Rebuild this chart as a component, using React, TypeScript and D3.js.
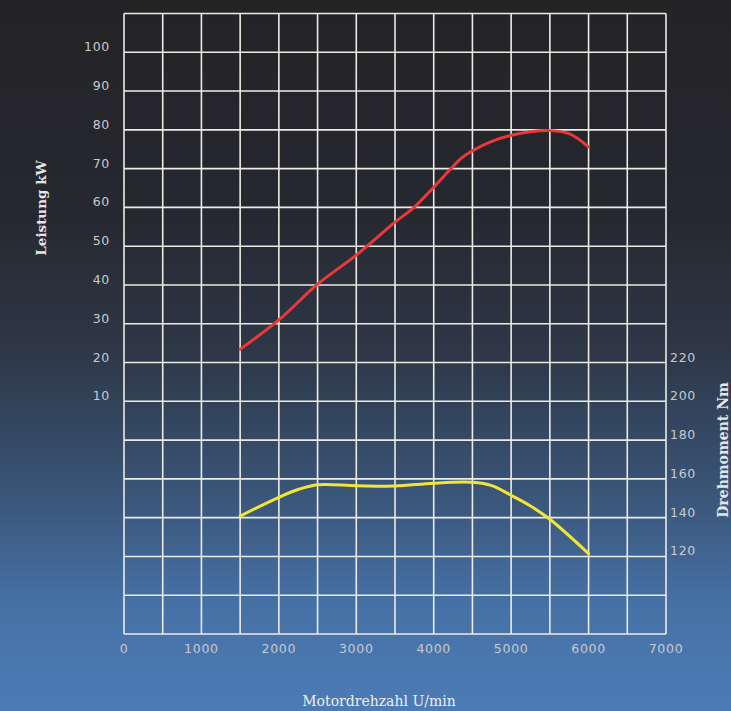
import React from "react";
import * as d3 from "d3";

const powerRpm = [1500, 2000, 2500, 3000, 3500, 3750, 4000, 4200, 4350, 4500, 4750, 5000, 5250, 5500, 5750, 6000];
const powerKw = [23.4, 31, 40.2, 47.7, 56.2, 60.1, 65.2, 69.5, 72.6, 74.6, 77, 78.6, 79.5, 79.8, 79, 75.6];

const torqueRpm = [1500, 2000, 2250, 2500, 3000, 3500, 4000, 4500, 4750, 5000, 5250, 5500, 6000];
const torqueNm = [140.8, 150.5, 154.5, 157, 156.5, 156.3, 157.8, 158.2, 156.5, 151.5, 146, 139.2, 121.5];

const xTicks = [0, 1000, 2000, 3000, 4000, 5000, 6000, 7000];
const kwTicks = [10, 20, 30, 40, 50, 60, 70, 80, 90, 100];
const nmTicks = [120, 140, 160, 180, 200, 220];

const W = 731;
const H = 711;
const left = 124;
const right = 666;
const top = 13.5;
const bottom = 634;

export default function App() {
  const x = d3.scaleLinear().domain([0, 7000]).range([left, right]);
  const yKw = d3.scaleLinear().domain([-50, 110]).range([bottom, top]);
  const yNm = d3.scaleLinear().domain([80, 400]).range([bottom, top]);

  const vGrid = d3.range(0, 7001, 500);
  const hGrid = d3.range(-50, 111, 10);

  const powerLine = d3
    .line<number>()
    .x((_, i) => x(powerRpm[i]))
    .y((d) => yKw(d))
    .curve(d3.curveCatmullRom.alpha(0.5))(powerKw);
  const torqueLine = d3
    .line<number>()
    .x((_, i) => x(torqueRpm[i]))
    .y((d) => yNm(d))
    .curve(d3.curveCatmullRom.alpha(0.5))(torqueNm);

  const tickStyle: React.CSSProperties = {
    fontFamily: "'DejaVu Sans', sans-serif",
    fontSize: 12.5,
    fill: "#c8cace",
    letterSpacing: 0.7,
  };

  return (
    <svg
      width={W}
      height={H}
      style={{ position: "fixed", left: 0, top: 0 }}
      viewBox={`0 0 ${W} ${H}`}
    >
      <defs>
        <linearGradient id="bg" x1="0" y1="0" x2="0" y2="1">
          <stop offset="0" stopColor="#242326" />
          <stop offset="0.3" stopColor="#262830" />
          <stop offset="0.5" stopColor="#2e3848" />
          <stop offset="0.7" stopColor="#3a567a" />
          <stop offset="0.85" stopColor="#4671a6" />
          <stop offset="1" stopColor="#4c7bb5" />
        </linearGradient>
      </defs>
      <rect x={0} y={0} width={W} height={H} fill="url(#bg)" />

      <g stroke="#ecebe4" strokeWidth={1.6} fill="none">
        {vGrid.map((v) => (
          <line key={"v" + v} x1={x(v)} x2={x(v)} y1={top} y2={bottom} />
        ))}
        {hGrid.map((v) => (
          <line key={"h" + v} x1={left} x2={right} y1={yKw(v)} y2={yKw(v)} />
        ))}
      </g>

      <path d={powerLine || ""} fill="none" stroke="#ec3838" strokeWidth={3} strokeLinecap="round" />
      <path d={torqueLine || ""} fill="none" stroke="#f2e534" strokeWidth={3} strokeLinecap="round" />

      {kwTicks.map((v) => (
        <text key={"k" + v} x={110} y={yKw(v) - 1} textAnchor="end" style={tickStyle}>
          {v}
        </text>
      ))}
      {nmTicks.map((v) => (
        <text key={"n" + v} x={670} y={yNm(v) - 1} textAnchor="start" style={tickStyle}>
          {v}
        </text>
      ))}
      {xTicks.map((v) => (
        <text key={"x" + v} x={x(v)} y={653} textAnchor="middle" style={tickStyle}>
          {v}
        </text>
      ))}

      <text
        transform="translate(46,208) rotate(-90)"
        textAnchor="middle"
        style={{ fontFamily: "'DejaVu Serif', serif", fontWeight: "bold", fontSize: 13.5, fill: "#e6e6e6" }}
      >
        Leistung kW
      </text>
      <text
        transform="translate(728,450) rotate(-90)"
        textAnchor="middle"
        style={{ fontFamily: "'DejaVu Serif', serif", fontWeight: "bold", fontSize: 14, fill: "#e6e6e6" }}
      >
        Drehmoment Nm
      </text>
      <text
        x={379}
        y={706}
        textAnchor="middle"
        style={{ fontFamily: "'DejaVu Serif', serif", fontSize: 14, fill: "#eeeeee" }}
      >
        Motordrehzahl U/min
      </text>
    </svg>
  );
}
